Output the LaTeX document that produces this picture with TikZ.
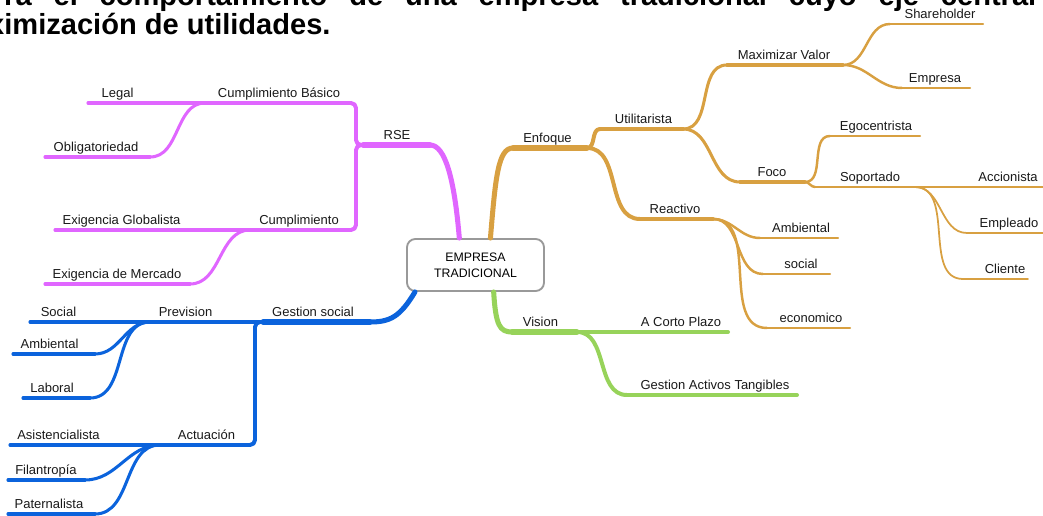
\documentclass[tikz,border=0pt]{standalone}
\usepackage{fontspec}
\setmainfont{Liberation Sans}

\definecolor{rsecol}{HTML}{E066FF}
\definecolor{enfcol}{HTML}{D8A041}
\definecolor{viscol}{HTML}{97D35A}
\definecolor{gescol}{HTML}{0B63DC}

\begin{document}
\begin{tikzpicture}[x=0.03cm,y=-0.03cm]

\useasboundingbox (0,0) rectangle (1043,516);
\clip (0,0) rectangle (1043,516);

\tikzstyle {topictext}=[anchor=base, inner sep=0pt, yshift=1.65mm,
     text=black!90, font=\fontsize{11.1}{13}\selectfont];

\tikzstyle {titletext}=[anchor=base west, inner sep=0pt,
     font=\fontsize{24.8}{29}\selectfont\bfseries];

\tikzstyle {rootbox}=[draw=black!40, line width=1.6pt, rounded corners=2.5mm,
     fill=white, minimum width=4.11cm, minimum height=1.56cm, inner sep=0pt,
     align=center, font=\fontsize{10.5}{13.7}\selectfont];

\tikzstyle {branch}=[line cap=round, line join=round];
\tikzstyle {rse}=[branch, draw=rsecol];
\tikzstyle {enf}=[branch, draw=enfcol];
\tikzstyle {vis}=[branch, draw=viscol];
\tikzstyle {ges}=[branch, draw=gescol];

\tikzstyle {wa}=[line width=4.3pt];
\tikzstyle {wb}=[line width=3.4pt];
\tikzstyle {wc}=[line width=2.6pt];
\tikzstyle {wd}=[line width=2.1pt];
\tikzstyle {we}=[line width=1.5pt];

% style, name, left end, right end, line y, label x, text
\newcommand*{\topic}[7]{
\draw [#1] (#3,#5) coordinate (#2-l) -- (#4,#5) coordinate (#2-r);
\draw (#6,#5) node [topictext] (#2) {#7};
}

% Caption text, cut at the top
\draw (4,6) node [titletext] (title1)
  {\makebox[30.96cm][s]{ra el comportamiento de una empresa tradicional cuyo eje central}};
\draw (-12,35) node [titletext] (title2) {ximización de utilidades.};

\draw (475.5,265) node [rootbox] (root) {EMPRESA\\TRADICIONAL};

% RSE
\topic{rse,wa}{rse}{363}{430}{145}{397}{RSE}
\topic{rse,wb}{cb}{205}{350}{103}{279}{Cumplimiento Básico}
\topic{rse,wc}{leg}{88}{205}{103}{117.5}{Legal}
\topic{rse,wc}{obl}{45}{150}{157}{96}{Obligatoriedad}
\topic{rse,wb}{cu}{250}{350}{230}{299}{Cumplimiento}
\topic{rse,wc}{eg}{55}{250}{230}{121.5}{Exigencia Globalista}
\topic{rse,wc}{em}{45}{190}{284}{117}{Exigencia de Mercado}

\draw [rse,wa] (root.121) .. controls +(-5,-60) and +(15,0) .. (rse-r);
\draw [rse,wb,rounded corners=1.5mm] (rse-l) -- ++(-7,0) |- (cb-r);
\draw [rse,wb,rounded corners=1.5mm] (rse-l) -- ++(-7,0) |- (cu-r);
\draw [rse,wc] (cb-l) to[out=180,in=0] (obl-r);
\draw [rse,wc] (cu-l) to[out=180,in=0] (em-r);

% Enfoque
\topic{enf,wa}{enf}{513}{587}{148}{547.5}{Enfoque}
\topic{enf,wb}{util}{600}{683}{129}{643.5}{Utilitarista}
\topic{enf,wb}{react}{640}{713}{219}{675}{Reactivo}
\topic{enf,wc}{mv}{727}{843}{65}{784}{Maximizar Valor}
\topic{enf,wc}{foco}{740}{805}{182}{772}{Foco}
\topic{enf,wd}{sh}{890}{983}{24}{940}{Shareholder}
\topic{enf,wd}{emp}{902}{970}{88}{935}{Empresa}
\topic{enf,wd}{ego}{830}{920}{136}{876}{Egocentrista}
\topic{enf,wd}{sop}{815}{915}{187}{870}{Soportado}
\topic{enf,we}{acc}{915}{1043}{187}{1008}{Accionista}
\topic{enf,we}{empl}{967}{1043}{233}{1009}{Empleado}
\topic{enf,we}{cli}{963}{1028}{279}{1005}{Cliente}
\topic{enf,wd}{ramb}{760}{838}{238}{801}{Ambiental}
\topic{enf,wd}{soc}{763}{830}{274}{801}{social}
\topic{enf,wd}{eco}{767}{850}{328}{811}{economico}

\draw [enf,wa] (root.61) .. controls +(5,-60) and +(-15,0) .. (enf-l);
\draw [enf,wb] (enf-r) to[out=0,in=180] (util-l);
\draw [enf,wb] (enf-r) to[out=0,in=180] (react-l);
\draw [enf,wc] (util-r) to[out=0,in=180] (mv-l);
\draw [enf,wc] (util-r) to[out=0,in=180] (foco-l);
\draw [enf,wd] (mv-r) to[out=0,in=180] (sh-l);
\draw [enf,wd] (mv-r) to[out=0,in=180] (emp-l);
\draw [enf,wd] (foco-r) to[out=0,in=180] (ego-l);
\draw [enf,wd] (foco-r) to[out=0,in=180] (sop-l);
\draw [enf,we] (sop-r) to[out=0,in=180] (empl-l);
\draw [enf,we] (sop-r) to[out=0,in=180] (cli-l);
\draw [enf,wd] (react-r) to[out=0,in=180] (ramb-l);
\draw [enf,wd] (react-r) to[out=0,in=180] (soc-l);
\draw [enf,wd] (react-r) to[out=0,in=180] (eco-l);

% Vision
\topic{vis,wa}{vis}{512}{577}{332}{540.5}{Vision}
\topic{vis,wb}{acp}{577}{728}{332}{681}{A Corto Plazo}
\topic{vis,wb}{gat}{627}{797}{395}{715}{Gestion Activos Tangibles}

\draw [vis,wa] (root.-56) .. controls +(2,34) and +(-12,0) .. (vis-l);
\draw [vis,wb] (vis-r) to[out=0,in=180] (gat-l);

% Gestion social
\topic{ges,wa}{gs}{263}{370}{322}{313}{Gestion social}
\topic{ges,wb}{prev}{150}{263}{322}{185.5}{Prevision}
\topic{ges,wc}{bsoc}{30}{150}{322}{58.5}{Social}
\topic{ges,wc}{bamb}{13}{95}{354}{49.5}{Ambiental}
\topic{ges,wc}{lab}{23}{90}{398}{52}{Laboral}
\topic{ges,wb}{act}{160}{245}{445}{206.5}{Actuación}
\topic{ges,wc}{asi}{10}{160}{445}{58.5}{Asistencialista}
\topic{ges,wc}{fil}{8}{85}{480}{46}{Filantropía}
\topic{ges,wc}{pat}{8}{95}{514}{49}{Paternalista}

\draw [ges,wa] (root.204) .. controls +(-15,25) and +(20,0) .. (gs-r);
\draw [ges,wb,rounded corners=1.5mm] (gs-l) -- ++(-8,0) |- (act-r);
\draw [ges,wc] (prev-l) to[out=180,in=0] (bamb-r);
\draw [ges,wc] (prev-l) to[out=180,in=0] (lab-r);
\draw [ges,wc] (act-l) to[out=180,in=0] (fil-r);
\draw [ges,wc] (act-l) to[out=180,in=0] (pat-r);
\end{tikzpicture}
\end{document}
